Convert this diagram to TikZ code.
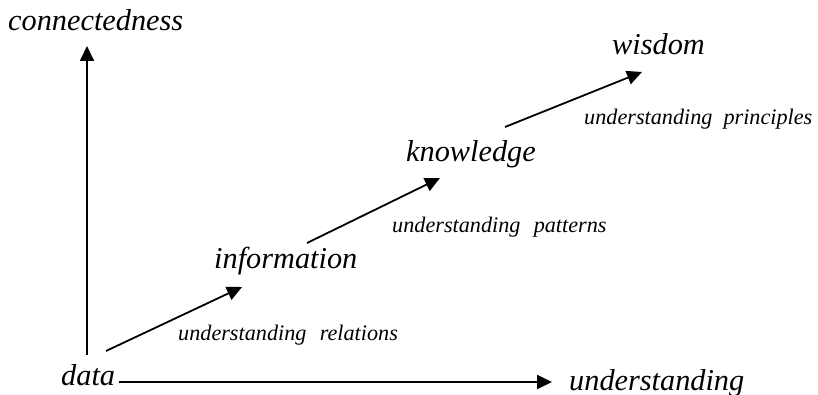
\documentclass[tikz,border=0pt]{standalone}
\usepackage{fontspec}
\setmainfont{Liberation Serif}
\usetikzlibrary{arrows.meta}

\begin{document}
\begin{tikzpicture}[
    x=1pt, y=-1pt,
    level/.style={anchor=base west, inner sep=0pt, font=\fontsize{30.3}{33}\selectfont\itshape},
    how/.style={anchor=base west, inner sep=0pt, font=\fontsize{22.2}{25}\selectfont\itshape},
    axis/.style={-{Triangle[length=15pt, width=14pt]}, line width=1.8pt},
    rise/.style={-{Triangle[length=15pt, width=14pt]}, line width=1.8pt}
]
\useasboundingbox (0,0) rectangle (818,395);

% axes
\node[level] (conn) at (8,31) {connectedness};
\node[level] (data) at (61,385) {data};
\node[level] (und) at (569,390) {understanding};
\coordinate (ybot) at (87,355);
\coordinate (ytop) at (87,46);
\coordinate (xend) at (552,382);
\draw[axis] (ybot) -- (ytop);
\draw[axis] (data.east |- xend) ++(4,0) coordinate (xbeg) (xbeg) -- (xend);

% levels
\node[level] (info) at (214,268) {information};
\node[level] (know) at (406,162) {knowledge};
\node[level] (wis) at (612,55) {wisdom};

\node[how] (rel) at (178,340) {understanding\hspace{0.6em}relations};
\node[how] (pat) at (392,233) {understanding\hspace{0.6em}patterns};
\node[how] (pri) at (584,125) {understanding\hspace{0.5em}principles};

% steps
\coordinate (s1) at (106,351);
\coordinate (e1) at (242,287);
\coordinate (s2) at (307,243);
\coordinate (e2) at (440,178);
\coordinate (s3) at (505,127);
\coordinate (e3) at (642,72);
\draw[rise] (s1) -- (e1);
\draw[rise] (s2) -- (e2);
\draw[rise] (s3) -- (e3);
\end{tikzpicture}
\end{document}
